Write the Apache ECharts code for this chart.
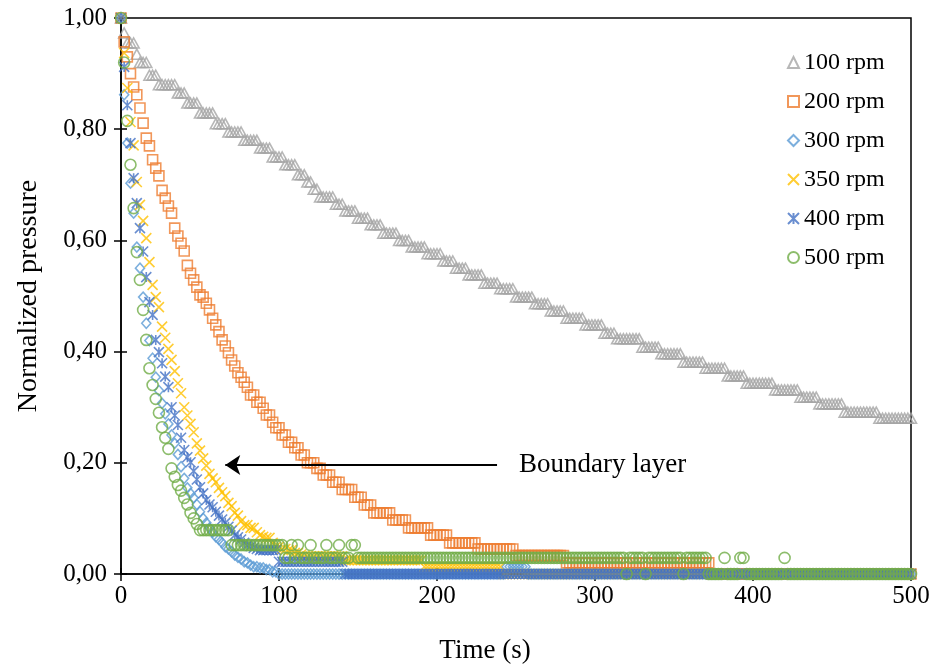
<!DOCTYPE html>
<html><head><meta charset="utf-8">
<script src="https://cdn.jsdelivr.net/npm/echarts@6/dist/echarts.min.js"></script>
<style>html,body{margin:0;padding:0;background:#fff}#c{width:931px;height:665px}</style>
</head><body><div id="c"></div>
<script>
// Sampling times (s)
const TIME_S = [
0,2,4,6,8,10,12,14,16,18,
20,22,24,26,28,30,32,34,36,38,
40,42,44,46,48,50,52,54,56,58,
60,62,64,66,68,70,72,74,76,78,
80,82,84,86,88,90,92,94,96,98,
100,102,104,106,108,110,112,114,116,118,
120,122,124,126,128,130,132,134,136,138,
140,142,144,146,148,150,152,154,156,158,
160,162,164,166,168,170,172,174,176,178,
180,182,184,186,188,190,192,194,196,198,
200,202,204,206,208,210,212,214,216,218,
220,222,224,226,228,230,232,234,236,238,
240,242,244,246,248,250,252,254,256,258,
260,262,264,266,268,270,272,274,276,278,
280,282,284,286,288,290,292,294,296,298,
300,302,304,306,308,310,312,314,316,318,
320,322,324,326,328,330,332,334,336,338,
340,342,344,346,348,350,352,354,356,358,
360,362,364,366,368,370,372,374,376,378,
380,382,384,386,388,390,392,394,396,398,
400,402,404,406,408,410,412,414,416,418,
420,422,424,426,428,430,432,434,436,438,
440,442,444,446,448,450,452,454,456,458,
460,462,464,466,468,470,472,474,476,478,
480,482,484,486,488,490,492,494,496,498,
500];

const P_100RPM = [
1,.973,.955,.955,.955,.935,.92,.92,.92,.897,
.897,.897,.88,.88,.88,.88,.88,.88,.865,.865,
.865,.847,.847,.847,.847,.829,.829,.829,.829,.829,
.81,.81,.81,.81,.795,.795,.795,.795,.795,.78,
.78,.78,.78,.78,.766,.766,.766,.766,.75,.75,
.75,.75,.736,.736,.736,.736,.718,.718,.718,.705,
.705,.692,.692,.678,.678,.678,.678,.678,.665,.665,
.665,.653,.653,.653,.653,.64,.64,.64,.64,.628,
.628,.628,.628,.613,.613,.613,.613,.613,.6,.6,
.6,.6,.588,.588,.588,.588,.588,.576,.576,.576,
.576,.576,.563,.563,.563,.563,.55,.55,.55,.55,
.538,.538,.538,.538,.538,.523,.523,.523,.523,.523,
.513,.513,.513,.513,.513,.498,.498,.498,.498,.498,
.498,.486,.486,.486,.486,.486,.473,.473,.473,.473,
.473,.46,.46,.46,.46,.46,.46,.448,.448,.448,
.448,.448,.448,.433,.433,.433,.433,.423,.423,.423,
.423,.423,.423,.423,.423,.408,.408,.408,.408,.408,
.408,.396,.396,.396,.396,.396,.396,.396,.381,.381,
.381,.381,.381,.381,.381,.37,.37,.37,.37,.37,
.37,.37,.356,.356,.356,.356,.356,.356,.343,.343,
.343,.343,.343,.343,.343,.343,.343,.331,.331,.331,
.331,.331,.331,.331,.331,.318,.318,.318,.318,.318,
.318,.306,.306,.306,.306,.306,.306,.306,.306,.291,
.291,.291,.291,.291,.291,.291,.291,.291,.291,.291,
.28,.28,.28,.28,.28,.28,.28,.28,.28,.28,
.28];

const P_200RPM = [
1,.957,.93,.9,.876,.862,.838,.811,.784,.77,
.745,.73,.716,.69,.676,.662,.649,.622,.608,.595,
.581,.555,.541,.529,.516,.502,.498,.487,.475,.46,
.448,.436,.421,.41,.398,.385,.374,.362,.354,.345,
.336,.322,.322,.309,.309,.298,.286,.286,.273,.263,
.263,.25,.25,.237,.237,.227,.227,.214,.214,.2,
.2,.2,.19,.19,.178,.178,.178,.165,.165,.165,
.152,.152,.152,.152,.138,.138,.138,.124,.124,.124,
.11,.11,.11,.11,.11,.11,.097,.097,.097,.097,
.097,.083,.083,.083,.083,.083,.083,.083,.07,.07,
.07,.07,.07,.07,.056,.056,.056,.056,.056,.056,
.056,.056,.056,.045,.045,.045,.045,.045,.045,.045,
.045,.045,.045,.045,.045,.033,.033,.033,.033,.033,
.033,.033,.033,.033,.033,.033,.033,.033,.033,.033,
.033,.02,.02,.02,.02,.02,.02,.02,.02,.02,
.02,.02,.02,.02,.02,.02,.02,.02,.02,.02,
.02,.02,.02,.02,.02,.02,.02,.02,.02,.02,
.02,.02,.02,.02,.02,.02,.02,.02,.02,.02,
.02,.02,.02,.02,.02,.02,.02,0,0,0,
0,0,0,0,0,0,0,0,0,0,
0,0,0,0,0,0,0,0,0,0,
0,0,0,0,0,0,0,0,0,0,
0,0,0,0,0,0,0,0,0,0,
0,0,0,0,0,0,0,0,0,0,
0,0,0,0,0,0,0,0,0,0,
0];

const P_300RPM = [
1,.862,.775,.703,.649,.588,.55,.498,.451,.42,
.388,.354,.33,.307,.288,.27,.25,.235,.215,.193,
.172,.155,.145,.137,.125,.112,.1,.092,.083,.075,
.067,.062,.056,.049,.045,.04,.034,.03,.027,.022,
.02,.016,.013,.013,.011,.011,.008,.008,.004,.004,
0,0,0,0,0,0,0,0,0,0,
0,0,0,0,0,0,0,0,0,0,
0,0,0,0,0,0,0,0,0,0,
0,0,0,0,0,0,0,0,0,0,
0,0,0,0,0,0,0,0,0,0,
0,0,0,0,0,0,0,0,0,0,
0,0,0,0,0,0,0,0,0,0,
0,0,.013,.013,.013,.013,.013,.013,.013,0,
0,0,0,0,0,0,0,0,0,0,
0,0,0,0,0,0,0,0,0,0,
0,0,0,0,0,0,0,0,0,0,
0,0,0,0,0,0,0,0,0,0,
0,0,0,0,0,0,0,0,0,0,
0,0,0,0,0,0,0,0,0,0,
0,0,0,0,0,0,0,0,0,0,
0,0,0,0,0,0,0,0,0,0,
0,0,0,0,0,0,0,0,0,0,
0,0,0,0,0,0,0,0,0,0,
0,0,0,0,0,0,0,0,0,0,
0,0,0,0,0,0,0,0,0,0,
0];

const P_350RPM = [
1,.937,.874,.813,.771,.705,.664,.635,.604,.561,
.52,.498,.48,.445,.425,.405,.385,.365,.343,.325,
.3,.285,.27,.255,.235,.222,.208,.195,.18,.172,
.165,.155,.147,.14,.128,.122,.11,.105,.095,.088,
.088,.083,.083,.075,.07,.067,.065,.065,.056,.049,
.049,.045,.045,.043,.043,.038,.038,.035,.032,.032,
.032,.032,.032,.032,.032,.032,.032,.032,.032,.032,
.032,.025,.025,.025,.025,.025,.025,.025,.025,.025,
.025,.025,.025,.025,.025,.025,.025,.025,.025,.025,
.025,.025,.025,.025,.025,.025,.013,.013,.013,.013,
.013,.013,.013,.013,.013,.013,.013,.013,.013,.013,
.013,.013,.013,.013,.013,.013,.013,.013,.013,.013,
.013,0,0,0,0,0,0,0,0,0,
0,0,0,0,0,0,0,0,0,0,
0,0,0,0,0,0,0,0,0,0,
0,0,0,0,0,0,0,0,0,0,
0,0,0,0,0,0,0,0,0,0,
0,0,0,0,0,0,0,0,0,0,
0,0,0,0,0,0,0,0,0,0,
0,0,0,0,0,0,0,0,0,0,
0,0,0,0,0,0,0,0,0,0,
0,0,0,0,0,0,0,0,0,0,
0,0,0,0,0,0,0,0,0,0,
0,0,0,0,0,0,0,0,0,0,
0,0,0,0,0,0,0,0,0,0,
0];

const P_400RPM = [
1,.912,.843,.775,.712,.667,.622,.58,.534,.489,
.466,.421,.399,.379,.355,.336,.3,.285,.268,.245,
.223,.21,.201,.185,.17,.156,.145,.133,.125,.12,
.112,.105,.098,.092,.085,.078,.07,.066,.062,.056,
.052,.05,.047,.045,.043,.043,.043,.043,.043,.043,
.022,.022,.022,.022,.022,.022,.022,.022,.022,.022,
.022,.022,.022,.022,.022,.022,.022,.022,.022,.022,
.022,0,0,0,0,0,0,0,0,0,
0,0,0,0,0,0,0,0,0,0,
0,0,0,0,0,0,0,0,0,0,
0,0,0,0,0,0,0,0,0,0,
0,0,0,0,0,0,0,0,0,0,
0,0,0,0,0,0,0,0,0,0,
0,0,0,0,0,0,0,0,0,0,
0,0,0,0,0,0,0,0,0,0,
0,0,0,0,0,0,0,0,0,0,
0,0,0,0,0,0,0,0,0,0,
0,0,0,0,0,0,0,0,0,0,
0,0,0,0,0,0,0,0,0,0,
0,0,0,0,0,0,0,0,0,0,
0,0,0,0,0,0,0,0,0,0,
0,0,0,0,0,0,0,0,0,0,
0,0,0,0,0,0,0,0,0,0,
0,0,0,0,0,0,0,0,0,0,
0,0,0,0,0,0,0,0,0,0,
0];

const P_500RPM = [
1,.92,.815,.736,.658,.579,.529,.475,.421,.37,
.34,.315,.29,.264,.245,.225,.19,.175,.16,.15,
.137,.125,.11,.1,.09,.079,.079,.079,.079,.079,
.079,.079,.079,.079,.079,.052,.052,.052,.052,.052,
.052,.052,.052,.052,.052,.052,.052,.052,.052,.052,
.052,.052,.029,.029,.052,.029,.052,.029,.029,.029,
.052,.029,.029,.029,.029,.052,.029,.029,.029,.052,
.029,.029,.029,.052,.052,.029,.029,.029,.029,.029,
.029,.029,.029,.029,.029,.029,.029,.029,.029,.029,
.029,.029,.029,.029,.029,.029,.029,.029,.029,.029,
.029,.029,.029,.029,.029,.029,.029,.029,.029,.029,
.029,.029,.029,.029,.029,.029,.029,.029,.029,.029,
.029,.029,.029,.029,.029,.029,.029,.029,.029,.029,
.029,.029,.029,.029,.029,.029,.029,.029,.029,.029,
.029,.029,.029,.029,.029,.029,.029,.029,.029,.029,
.029,.029,.029,.029,.029,.029,.029,.029,.029,.029,
0,.029,.029,.029,.029,.029,0,.029,.029,.029,
.029,.029,.029,.029,.029,.029,.029,.029,0,.029,
.029,.029,.029,.029,.029,.029,0,0,0,0,
0,.029,0,0,0,0,.029,.029,0,0,
0,0,0,0,0,0,0,0,0,0,
.029,0,0,0,0,0,0,0,0,0,
0,0,0,0,0,0,0,0,0,0,
0,0,0,0,0,0,0,0,0,0,
0,0,0,0,0,0,0,0,0,0,
0];

const SERIES_NAMES = ['100 rpm','200 rpm','300 rpm','350 rpm','400 rpm','500 rpm'];
const SERIES_VALUES = [P_100RPM, P_200RPM, P_300RPM, P_350RPM, P_400RPM, P_500RPM];
const X_AXIS = {min: 0, max: 500, interval: 100};
const Y_AXIS = {min: 0, max: 1, interval: 0.2};
const AXIS_TITLES = {x: 'Time (s)', y: 'Normalized pressure'};
const ANNOTATION_TEXT = 'Boundary layer';

const FONT = '"Liberation Serif","Times New Roman",serif';
const STAR = 'path://M0,0L10,10M10,0L0,10M5,0L5,10';
const XMARK = 'path://M0,0L10,10M10,0L0,10';
const STYLES = [
  {symbol: 'triangle', size: [11, 10], color: '#A5A5A5'},
  {symbol: 'rect', size: [10, 10], color: '#ED7D31'},
  {symbol: 'diamond', size: [9, 10], color: '#5B9BD5'},
  {symbol: XMARK, size: [10, 10], color: '#FFC000'},
  {symbol: STAR, size: [10, 10], color: '#4472C4'},
  {symbol: 'circle', size: 11, color: '#70AD47'}
];

const series = SERIES_NAMES.map((name, k) => ({
  name,
  type: 'scatter',
  symbol: STYLES[k].symbol,
  symbolSize: STYLES[k].size,
  clip: false,
  animation: false,
  itemStyle: {color: 'rgba(255,255,255,0)', borderColor: STYLES[k].color, borderWidth: 1.6},
  emphasis: {disabled: true},
  data: TIME_S.map((t, i) => [t, SERIES_VALUES[k][i]])
}));

series[series.length - 1].markLine = {
  silent: true, animation: false,
  symbol: ['none', 'arrow'], symbolSize: 15,
  lineStyle: {color: '#000', width: 2, type: 'solid'},
  label: {show: true, position: 'start', formatter: ANNOTATION_TEXT, color: '#000',
          fontFamily: FONT, fontSize: 27, distance: 22},
  data: [[{coord: [238, 0.196]}, {coord: [66, 0.196]}]]
};

const chart = echarts.init(document.getElementById('c'), null, {renderer: 'canvas'});
const axisText = {fontFamily: FONT, color: '#000'};
chart.setOption({
  animation: false,
  backgroundColor: '#fff',
  grid: {left: 121, right: 20, top: 18, bottom: 91, containLabel: false, outerBoundsMode: 'none',
         show: true, borderColor: '#000', borderWidth: 1.5, backgroundColor: 'rgba(0,0,0,0)'},
  legend: {
    data: SERIES_NAMES, orient: 'vertical', left: 782, top: 44,
    itemWidth: 11, itemHeight: 11, itemGap: 12, selectedMode: false,
    textStyle: {fontFamily: FONT, fontSize: 24, color: '#000', lineHeight: 27}
  },
  xAxis: [
    {type: 'value', min: X_AXIS.min, max: X_AXIS.max, interval: X_AXIS.interval,
     name: AXIS_TITLES.x, nameLocation: 'middle', nameGap: 63,
     nameTextStyle: Object.assign({fontSize: 27, padding: [0, 62, 0, 0]}, axisText),
     axisLine: {show: true, lineStyle: {color: '#000', width: 1.5}},
     axisTick: {show: true, length: 7, lineStyle: {color: '#000', width: 1.5}},
     axisLabel: Object.assign({fontSize: 25, margin: 10}, axisText),
     splitLine: {show: false}},
    {type: 'value', min: X_AXIS.min, max: X_AXIS.max, interval: X_AXIS.interval, position: 'bottom',
     axisLine: {show: false}, axisLabel: {show: false}, splitLine: {show: false},
     axisTick: {show: true, inside: true, length: 6, lineStyle: {color: '#000', width: 1.5}}}
  ],
  yAxis: [
    {type: 'value', min: Y_AXIS.min, max: Y_AXIS.max, interval: Y_AXIS.interval,
     name: AXIS_TITLES.y, nameLocation: 'middle', nameGap: 78,
     nameTextStyle: Object.assign({fontSize: 28}, axisText),
     axisLine: {show: true, lineStyle: {color: '#000', width: 1.5}},
     axisTick: {show: true, length: 7, lineStyle: {color: '#000', width: 1.5}},
     axisLabel: Object.assign({fontSize: 25, margin: 14,
       formatter: v => v.toFixed(2).replace('.', ',')}, axisText),
     splitLine: {show: false}},
    {type: 'value', min: Y_AXIS.min, max: Y_AXIS.max, interval: Y_AXIS.interval, position: 'left',
     axisLine: {show: false}, axisLabel: {show: false}, splitLine: {show: false},
     axisTick: {show: true, inside: true, length: 6, lineStyle: {color: '#000', width: 1.5}}}
  ],
  series
});
</script></body></html>
